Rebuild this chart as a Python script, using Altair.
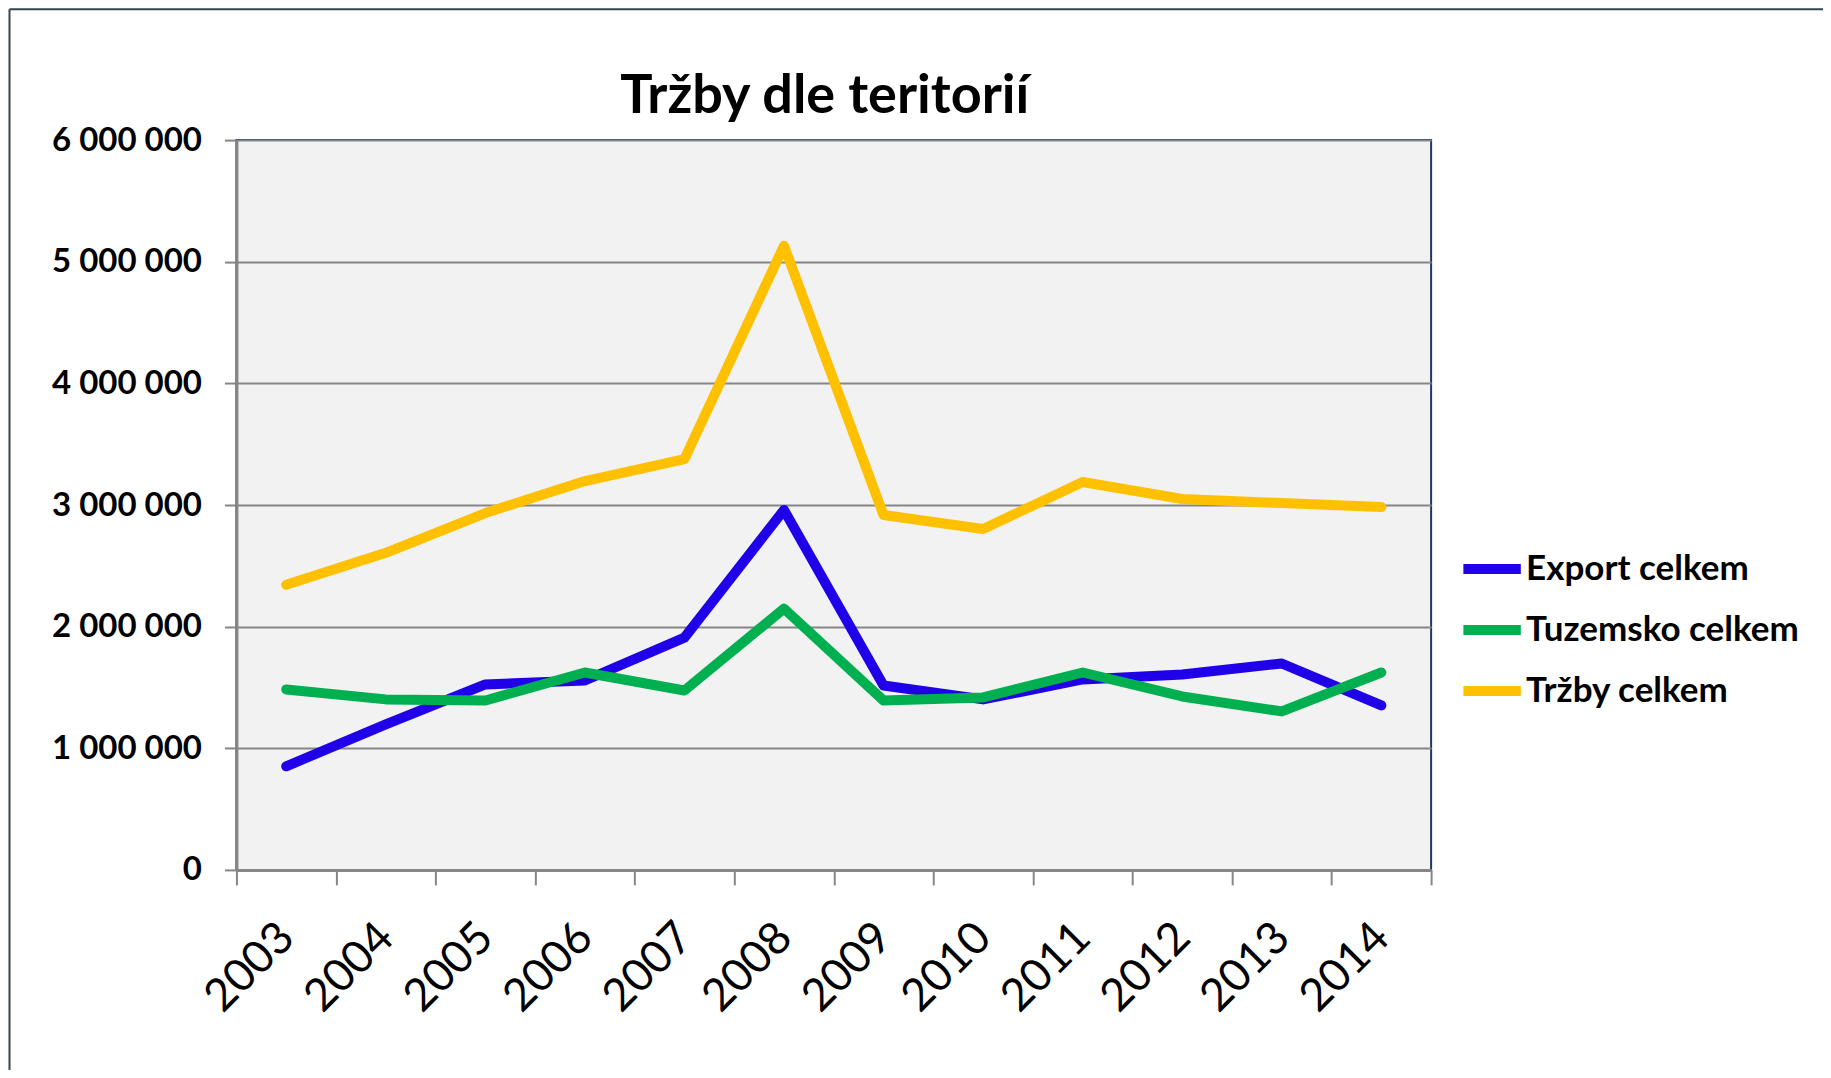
import altair as alt
import pandas as pd

years = ["2003", "2004", "2005", "2006", "2007", "2008", "2009", "2010", "2011", "2012", "2013", "2014"]
series_names = ["Export celkem", "Tuzemsko celkem", "Tržby celkem"]
export_vals = [852000, 1197000, 1525000, 1557000, 1910000, 2959000, 1516000, 1402000, 1566000, 1607000, 1697000, 1352000]
tuzemsko_vals = [1484000, 1402000, 1393000, 1623000, 1475000, 2148000, 1393000, 1418000, 1623000, 1426000, 1303000, 1623000]
trzby_vals = [2344000, 2607000, 2934000, 3197000, 3377000, 5131000, 2918000, 2803000, 3189000, 3049000, 3016000, 2984000]
colors = ["#1F00E8", "#00B050", "#FFC000"]
y_ticks = [0, 1000000, 2000000, 3000000, 4000000, 5000000, 6000000]

rows = []
for name, vals in zip(series_names, [export_vals, tuzemsko_vals, trzby_vals]):
    for y, v in zip(years, vals):
        rows.append({"rok": y, "serie": name, "hodnota": v})
df = pd.DataFrame(rows)

FONT = "Lato"
GRAY = "#868686"

lines = alt.Chart(df).mark_line(strokeWidth=10, strokeCap="round", strokeJoin="round").encode(
    x=alt.X("rok:O", sort=years,
            scale=alt.Scale(type="band", paddingInner=0, paddingOuter=0),
            bandPosition=0.5,
            axis=alt.Axis(title=None, labelAngle=-45, labelAlign="right", labelBaseline="middle",
                          labelFont=FONT, labelFontSize=45, labelFontWeight="normal", labelColor="black",
                          labelPadding=45, tickBand="extent", tickSize=15, tickWidth=2, tickColor=GRAY,
                          domainColor=GRAY, domainWidth=3, grid=False)),
    y=alt.Y("hodnota:Q", scale=alt.Scale(domain=[0, 6000000], nice=False),
            axis=alt.Axis(title=None, values=y_ticks,
                          labelExpr="replace(replace(format(datum.value, ','), ',', ' '), ',', ' ')",
                          labelFont=FONT, labelFontSize=33, labelFontWeight="bold", labelColor="black",
                          labelPadding=23, tickSize=12, tickWidth=2, tickColor=GRAY,
                          domainColor=GRAY, domainWidth=3, grid=True, gridColor=GRAY, gridWidth=2)),
    color=alt.Color("serie:N", sort=series_names,
                    scale=alt.Scale(domain=series_names, range=colors),
                    legend=alt.Legend(title=None, orient="none", legendX=1222, legendY=395,
                                      labelFont=FONT, labelFontSize=35, labelFontWeight="bold",
                                      labelColor="black", symbolType="stroke", symbolStrokeWidth=10,
                                      symbolSize=3300, labelOffset=0, rowPadding=7,
                                      labelLimit=400)),
    order=alt.Order("serie:N"),
)

frame_df = pd.DataFrame({"a": [0]})
frame_left = alt.Chart(frame_df).mark_rule(color="#33434F", strokeWidth=2, clip=False).encode(
    x=alt.value(-227), y=alt.value(-131), y2=alt.value(940))
frame_top = alt.Chart(frame_df).mark_rule(color="#33434F", strokeWidth=2, clip=False).encode(
    x=alt.value(-227), x2=alt.value(1600), y=alt.value(-131))

chart = alt.layer(lines, frame_left, frame_top).properties(
    width=1195, height=730,
    title=alt.Title("Tržby dle teritorií", font=FONT, fontSize=54, fontWeight="bold", color="black",
                    anchor="middle", frame="group", baseline="alphabetic", dx=-9, dy=193, offset=34),
    autosize=alt.AutoSizeParams(type="none"),
    padding={"left": 228.5, "top": 132, "right": 392, "bottom": 200},
).configure(
    background="white"
).configure_view(
    fill="#F2F2F2", stroke="#1F3864", strokeWidth=2
)

chart.save("out.html", embed_options={"renderer": "svg", "actions": False})
